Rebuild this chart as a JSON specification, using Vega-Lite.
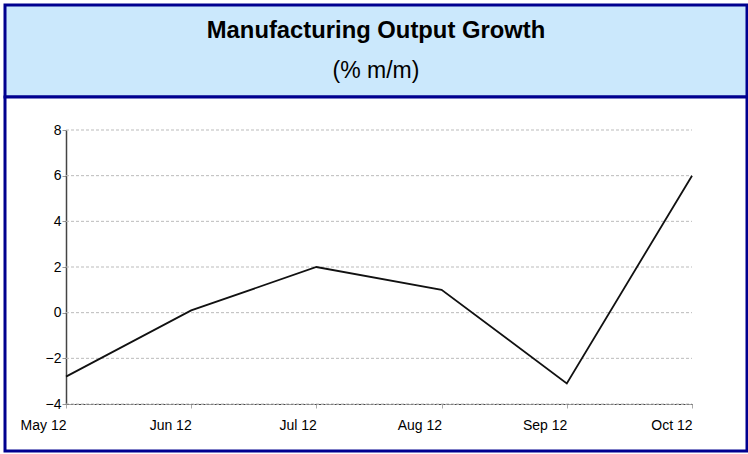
{
  "$schema": "https://vega.github.io/schema/vega-lite/v6.json",
  "padding": {"left": 3, "top": 3, "right": 3, "bottom": 2},
  "spacing": 0,
  "bounds": "flush",
  "background": "white",
  "config": {
    "font": "Liberation Sans",
    "axis": {"labelColor": "#000000", "labelFont": "Liberation Sans", "labelFontSize": 14, "title": null}
  },
  "datasets": {
    "series": [
      {"month": "May 12", "growth": -2.8},
      {"month": "Jun 12", "growth": 0.1},
      {"month": "Jul 12", "growth": 2.0},
      {"month": "Aug 12", "growth": 1.0},
      {"month": "Sep 12", "growth": -3.1},
      {"month": "Oct 12", "growth": 6.0}
    ],
    "grid": [{"v": -4}, {"v": -2}, {"v": 0}, {"v": 2}, {"v": 4}, {"v": 6}, {"v": 8}]
  },
  "vconcat": [
    {
      "width": 742,
      "height": 92,
      "view": {"fill": "#CBE8FC", "stroke": "#00008F", "strokeWidth": 3},
      "layer": [
        {
          "data": {"values": [{"label": "Manufacturing Output Growth", "row": "title"}]},
          "mark": {"type": "text", "font": "Liberation Sans", "fontWeight": "bold", "fontSize": 23.8, "color": "#000000", "baseline": "alphabetic", "dy": 9.5},
          "encoding": {
            "text": {"field": "label", "type": "nominal"},
            "y": {"field": "row", "type": "nominal", "scale": {"domain": ["title", "subtitle"]}, "axis": null}
          }
        },
        {
          "data": {"values": [{"label": "(% m/m)", "row": "subtitle"}]},
          "mark": {"type": "text", "font": "Liberation Sans", "fontWeight": "normal", "fontSize": 23, "color": "#000000", "baseline": "alphabetic", "dy": 4},
          "encoding": {
            "text": {"field": "label", "type": "nominal"},
            "y": {"field": "row", "type": "nominal", "scale": {"domain": ["title", "subtitle"]}, "axis": null}
          }
        }
      ]
    },
    {
      "width": 742,
      "height": 354,
      "view": {"fill": "white", "stroke": "#00008F", "strokeWidth": 3},
      "layer": [
        {
          "data": {"name": "grid"},
          "mark": {"type": "rule", "color": "#BBBBBB", "strokeWidth": 1, "strokeDash": [3, 2]},
          "encoding": {
            "y": {"field": "v", "type": "quantitative"},
            "x": {"datum": "May 12", "type": "ordinal"},
            "x2": {"datum": "Oct 12"}
          }
        },
        {
          "data": {"name": "series"},
          "mark": {"type": "line", "color": "#111111", "strokeWidth": 1.8},
          "encoding": {
            "x": {
              "field": "month",
              "type": "ordinal",
              "sort": null,
              "scale": {"type": "point", "domain": ["May 12", "Jun 12", "Jul 12", "Aug 12", "Sep 12", "Oct 12"], "range": [61, 687], "padding": 0},
              "axis": {"offset": -47, "labelAngle": 0, "domainColor": "#444444", "domainDash": [3, 1], "domainWidth": 1.2, "tickColor": "#AAAAAA", "tickSize": 4, "labelPadding": 17, "grid": false}
            },
            "y": {
              "field": "growth",
              "type": "quantitative",
              "scale": {"domain": [-4, 8], "range": [307, 33], "nice": false, "zero": false},
              "axis": {"offset": -61, "values": [-4, -2, 0, 2, 4, 6, 8], "domainColor": "#444444", "domainWidth": 1.5, "tickColor": "#999999", "tickSize": 4, "labelPadding": 1, "grid": false}
            }
          }
        }
      ]
    }
  ]
}
